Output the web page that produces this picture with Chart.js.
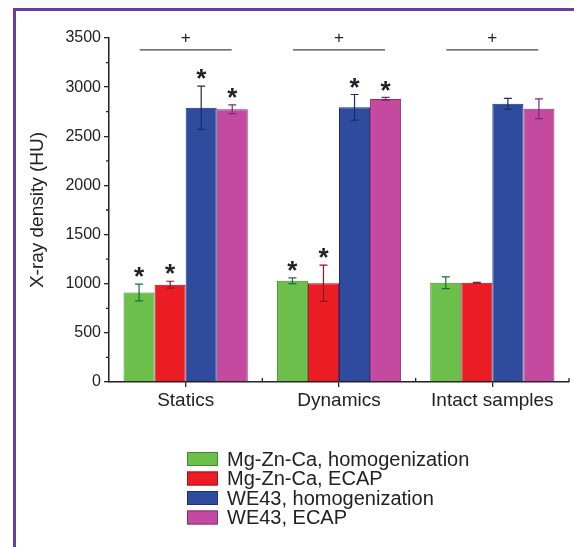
<!DOCTYPE html>
<html>
<head>
<meta charset="utf-8">
<script src="https://cdn.jsdelivr.net/npm/chart.js@4.4.1/dist/chart.umd.min.js"></script>
<style>
  html, body { margin: 0; padding: 0; background: #fff; overflow: hidden; }
  #wrap { position: relative; width: 574px; height: 547px; overflow: hidden; }
  #frame { position: absolute; left: 13px; top: 8px; width: 600px; height: 600px;
           border-left: 3px solid #6a3d9a; border-top: 3px solid #6a3d9a; pointer-events: none; }
  canvas { position: absolute; left: 0; top: 0; }
</style>
</head>
<body>
<div id="wrap">
  <canvas id="c" width="574" height="547"></canvas>
  <div id="frame"></div>
</div>
<script>
const categories = ["Statics", "Dynamics", "Intact samples"];
const seriesNames = ["Mg-Zn-Ca, homogenization", "Mg-Zn-Ca, ECAP", "WE43, homogenization", "WE43, ECAP"];
const mgZnCaHomog = [910, 1030, 1010];
const mgZnCaEcap  = [990, 1005, 1010];
const we43Homog   = [2790, 2795, 2830];
const we43Ecap    = [2775, 2880, 2780];
const errMgZnCaHomog = [85, 30, 60];
const errMgZnCaEcap  = [35, 185, 5];
const errWe43Homog   = [220, 130, 55];
const errWe43Ecap    = [45, 15, 100];
const starMgZnCaHomog = [true, true, false];
const starMgZnCaEcap  = [true, true, false];
const starWe43Homog   = [true, true, false];
const starWe43Ecap    = [true, true, false];
const plusLineValue = 3380;
const plusMarkValue = 3500;
const yTicks = [0, 500, 1000, 1500, 2000, 2500, 3000, 3500];

const fills   = ["#6cbf4b", "#ec1c24", "#2f4b9e", "#c34a9f"];
const borders = ["#3f8a2c", "#a3141b", "#1f2e78", "#8b2c7a"];
const errCols = ["#1e6b3c", "#8a1a20", "#1b2a6a", "#7a2a70"];
const FONT = "'Liberation Sans', Arial, sans-serif";

const values = [mgZnCaHomog, mgZnCaEcap, we43Homog, we43Ecap];
const errors = [errMgZnCaHomog, errMgZnCaEcap, errWe43Homog, errWe43Ecap];
const stars  = [starMgZnCaHomog, starMgZnCaEcap, starWe43Homog, starWe43Ecap];

const datasets = seriesNames.map((n, i) => ({
  label: n,
  data: values[i],
  backgroundColor: fills[i],
  borderColor: borders[i],
  borderWidth: 1,
  errors: errors[i],
  stars: stars[i],
  errColor: errCols[i]
}));

const extras = {
  id: 'extras',
  afterDatasetsDraw(chart) {
    const ctx = chart.ctx;
    const y = chart.scales.y, x = chart.scales.x;
    ctx.save();
    chart.data.datasets.forEach((ds, di) => {
      const meta = chart.getDatasetMeta(di);
      meta.data.forEach((bar, j) => {
        const v = ds.data[j], e = ds.errors[j];
        const yt = y.getPixelForValue(v + e), yb = y.getPixelForValue(v - e);
        ctx.strokeStyle = ds.errColor;
        ctx.lineWidth = 1.2;
        ctx.beginPath();
        ctx.moveTo(bar.x, yt); ctx.lineTo(bar.x, yb);
        ctx.moveTo(bar.x - 4, yt); ctx.lineTo(bar.x + 4, yt);
        ctx.moveTo(bar.x - 4, yb); ctx.lineTo(bar.x + 4, yb);
        ctx.stroke();
        if (ds.stars[j]) {
          ctx.fillStyle = '#222';
          ctx.font = 'bold 26px ' + FONT;
          ctx.textAlign = 'center';
          ctx.textBaseline = 'middle';
          ctx.fillText('*', bar.x, yt - 6);
        }
      });
    });
    const ly = y.getPixelForValue(plusLineValue), py = y.getPixelForValue(plusMarkValue);
    const half = (x.getPixelForValue(1) - x.getPixelForValue(0)) * 0.3;
    categories.forEach((c, i) => {
      const cx = x.getPixelForValue(i);
      ctx.strokeStyle = '#444';
      ctx.lineWidth = 1.3;
      ctx.beginPath();
      ctx.moveTo(cx - half, ly); ctx.lineTo(cx + half, ly);
      ctx.stroke();
      ctx.fillStyle = '#222';
      ctx.font = '17px ' + FONT;
      ctx.textAlign = 'center';
      ctx.textBaseline = 'middle';
      ctx.fillText('+', cx, py);
    });
    ctx.strokeStyle = '#222';
    ctx.lineWidth = 1.3;
    ctx.beginPath();
    for (let k = 0; k < yTicks.length - 1; k++) {
      const yy = y.getPixelForValue((yTicks[k] + yTicks[k + 1]) / 2);
      ctx.moveTo(y.right - 3, yy); ctx.lineTo(y.right, yy);
    }
    const step = x.getPixelForValue(1) - x.getPixelForValue(0);
    for (let i = 0; i < categories.length; i++) {
      const bx = x.getPixelForValue(i) + step / 2;
      ctx.moveTo(bx, x.top); ctx.lineTo(bx, x.top - 4);
    }
    ctx.stroke();
    const lx = 187, ly0 = 452, rowH = 19.5;
    chart.data.datasets.forEach((ds, i) => {
      const top = ly0 + i * rowH;
      ctx.fillStyle = ds.backgroundColor;
      ctx.fillRect(lx, top, 31, 14);
      ctx.strokeStyle = ds.borderColor;
      ctx.lineWidth = 1;
      ctx.strokeRect(lx + 0.5, top + 0.5, 30, 13);
      ctx.fillStyle = '#222';
      ctx.font = '20px ' + FONT;
      ctx.textAlign = 'left';
      ctx.textBaseline = 'middle';
      ctx.fillText(ds.label, lx + 40, top + 8);
    });
    ctx.restore();
  }
};

new Chart(document.getElementById('c'), {
  type: 'bar',
  data: { labels: categories, datasets },
  options: {
    responsive: false,
    animation: false,
    devicePixelRatio: 1,
    categoryPercentage: 0.81,
    barPercentage: 1.0,
    layout: { padding: { left: 26, right: 5, top: 38, bottom: 125 } },
    plugins: { legend: { display: false }, tooltip: { enabled: false } },
    scales: {
      y: {
        min: 0, max: 3500,
        afterBuildTicks: (s) => { s.ticks = yTicks.map(v => ({ value: v })); },
        afterFit: (s) => { s.width = 83; },
        ticks: { color: '#222', font: { size: 16, family: FONT }, padding: 3, callback: (v) => String(v) },
        grid: { drawOnChartArea: false, drawTicks: true, tickLength: 5, color: '#222', lineWidth: 1.3 },
        border: { color: '#222', width: 1.5 },
        title: { display: true, text: 'X-ray density (HU)', color: '#222', font: { size: 19, family: FONT }, padding: 0 }
      },
      x: {
        afterFit: (s) => { s.height = 40; },
        ticks: { color: '#222', font: { size: 19, family: FONT }, padding: 2 },
        grid: { offset: false, drawOnChartArea: false, drawTicks: true, tickLength: 5, color: '#222', lineWidth: 1.3 },
        border: { color: '#222', width: 1.5 }
      }
    }
  },
  plugins: [extras]
});
</script>
</body>
</html>
